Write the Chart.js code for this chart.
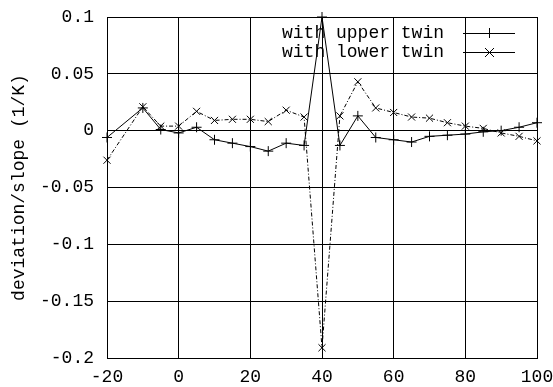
<!DOCTYPE html>
<html>
<head>
<meta charset="utf-8">
<script src="https://cdn.jsdelivr.net/npm/chart.js@4"></script>
<style>
  html, body { margin: 0; padding: 0; background: #fff; }
  #wrap { width: 553px; height: 387px; }
</style>
</head>
<body>
<div id="wrap"><canvas id="twinChart" width="553" height="387"></canvas></div>
<script>
// Températures (x) et écarts relatifs
const xValues = [-20, -10, -5, 0, 5, 10, 15, 20, 25, 30, 35, 40, 45, 50, 55, 60, 65, 70, 75, 80, 85, 90, 95, 100];
const upperTwin = [-0.006, 0.020, 0.001, -0.002, 0.003, -0.008, -0.011, -0.014, -0.018, -0.011, -0.013, 0.100, -0.013, 0.013, -0.006, -0.008, -0.010, -0.005, -0.004, -0.003, -0.001, 0.000, 0.003, 0.007];
const lowerTwin = [-0.026, 0.021, 0.004, 0.004, 0.017, 0.009, 0.010, 0.010, 0.008, 0.018, 0.012, -0.191, 0.013, 0.043, 0.020, 0.016, 0.012, 0.011, 0.007, 0.004, 0.002, -0.002, -0.005, -0.009];
const seriesLabels = ['with upper twin', 'with lower twin'];
const xTicks = [-20, 0, 20, 40, 60, 80, 100];
const yTicks = [0.1, 0.05, 0, -0.05, -0.1, -0.15, -0.2];

const FONT = "'Liberation Mono', 'DejaVu Sans Mono', monospace";

function toPoints(ys) {
    return xValues.map((x, i) => ({ x: x, y: ys[i] }));
}

// Légende façon gnuplot : texte à gauche, échantillon à droite
const gnuLegend = {
    id: 'gnuLegend',
    afterDraw(chart) {
        const ctx = chart.ctx;
        const markers = ['plus', 'x'];
        ctx.save();
        ctx.font = '18px ' + FONT;
        ctx.fillStyle = '#000';
        ctx.strokeStyle = '#000';
        ctx.lineWidth = 1;
        ctx.textBaseline = 'middle';
        seriesLabels.forEach((label, i) => {
            const y = 33 + i * 19;
            ctx.fillText(label, 282, y);
            ctx.beginPath();
            ctx.moveTo(463, y + 0.5);
            ctx.lineTo(515, y + 0.5);
            ctx.stroke();
            ctx.beginPath();
            if (markers[i] === 'plus') {
                ctx.moveTo(489.5, y - 5);
                ctx.lineTo(489.5, y + 5);
            } else {
                ctx.moveTo(485, y - 4);
                ctx.lineTo(494, y + 5);
                ctx.moveTo(494, y - 4);
                ctx.lineTo(485, y + 5);
            }
            ctx.stroke();
        });
        ctx.restore();
    }
};

const whiteBg = {
    id: 'whiteBg',
    beforeDraw(chart) {
        const ctx = chart.ctx;
        ctx.save();
        ctx.fillStyle = '#fff';
        ctx.fillRect(0, 0, chart.width, chart.height);
        ctx.restore();
    }
};

new Chart(document.getElementById('twinChart'), {
    type: 'line',
    data: {
        datasets: [
            {
                label: seriesLabels[0],
                data: toPoints(upperTwin),
                borderColor: '#000',
                borderWidth: 1,
                pointStyle: 'cross',
                pointRadius: 5,
                pointBorderColor: '#000',
                pointBorderWidth: 1,
                tension: 0,
                clip: false
            },
            {
                label: seriesLabels[1],
                data: toPoints(lowerTwin),
                borderColor: '#000',
                borderWidth: 1,
                borderDash: [4, 2, 1, 2],
                pointStyle: 'crossRot',
                pointRadius: 5,
                pointBorderColor: '#000',
                pointBorderWidth: 1,
                tension: 0,
                clip: false
            }
        ]
    },
    options: {
        responsive: false,
        animation: false,
        events: [],
        layout: { padding: { top: 17, right: 16, left: 0, bottom: 0 } },
        scales: {
            x: {
                type: 'linear',
                min: -20,
                max: 100,
                afterBuildTicks: (scale) => { scale.ticks = xTicks.map(v => ({ value: v })); },
                afterFit: (scale) => {
                    scale.height = 29;
                    scale.paddingLeft = 0;
                    scale.paddingRight = 0;
                },
                grid: { color: '#000', lineWidth: 1, drawTicks: false },
                border: { color: '#000', width: 1 },
                ticks: {
                    color: '#000',
                    padding: 8,
                    maxRotation: 0,
                    font: { family: FONT, size: 18 },
                    callback: (v) => String(v)
                }
            },
            y: {
                type: 'linear',
                min: -0.2,
                max: 0.1,
                afterBuildTicks: (scale) => { scale.ticks = yTicks.map(v => ({ value: v })); },
                afterFit: (scale) => {
                    scale.width = 107;
                    scale.paddingTop = 0;
                    scale.paddingBottom = 0;
                },
                grid: { color: '#000', lineWidth: 1, drawTicks: false },
                border: { color: '#000', width: 1 },
                title: {
                    display: true,
                    text: 'deviation/slope (1/K)',
                    color: '#000',
                    padding: { top: 8, bottom: 0 },
                    font: { family: FONT, size: 18 }
                },
                ticks: {
                    color: '#000',
                    padding: 13,
                    font: { family: FONT, size: 18 },
                    callback: (v) => String(Math.round(v * 100) / 100)
                }
            }
        },
        plugins: {
            legend: { display: false },
            tooltip: { enabled: false }
        }
    },
    plugins: [whiteBg, gnuLegend]
});
</script>
</body>
</html>
